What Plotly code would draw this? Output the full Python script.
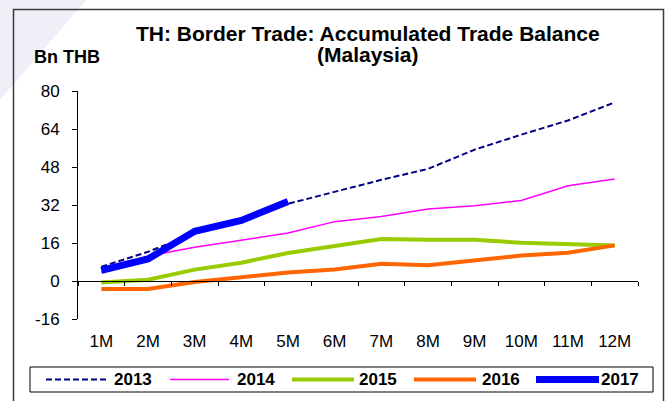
import plotly.graph_objects as go

# Accumulated border trade balance with Malaysia, billion THB
months = ["1M", "2M", "3M", "4M", "5M", "6M", "7M", "8M", "9M", "10M", "11M", "12M"]
bal_2013 = [6.0, 12.3, 20.0, 26.0, 32.5, 37.5, 42.6, 47.2, 55.3, 61.6, 67.6, 75.2]
bal_2014 = [3.7, 10.5, 14.2, 17.1, 20.2, 25.0, 27.2, 30.3, 31.7, 33.9, 40.1, 42.9]
bal_2015 = [-0.6, 0.5, 4.8, 7.7, 11.8, 14.7, 17.7, 17.4, 17.4, 16.1, 15.4, 15.0]
bal_2016 = [-3.4, -3.4, -0.4, 1.7, 3.6, 4.8, 7.3, 6.6, 8.7, 10.7, 11.9, 15.0]
bal_2017 = [4.5, 9.3, 20.9, 25.5, 33.5]
y_ticks = [-16, 0, 16, 32, 48, 64, 80]
y_tick_text = ["-16", "0", "16", "32", "48", "64", "80"]

FONT = "Arial, 'Liberation Sans', sans-serif"
W, H = 668, 401
PL, PR, PT, PB = 78, 638, 91, 319   # plot area edges in pixels


def fx(px):
    return (px - PL) / (PR - PL)


def fy(py):
    return (PB - py) / (PB - PT)


series = [
    ("2013", bal_2013, dict(color="#000080", width=2, dash="6px,3px")),
    ("2014", bal_2014, dict(color="#ff00ff", width=1.5)),
    ("2015", bal_2015, dict(color="#99cc00", width=4)),
    ("2016", bal_2016, dict(color="#ff6600", width=4)),
    ("2017", bal_2017, dict(color="#0000ff", width=7)),
]

fig = go.Figure()
for name, vals, line in series:
    fig.add_trace(go.Scatter(x=months[:len(vals)], y=vals, name=name, mode="lines",
                             line=line, showlegend=False))

# helper trace so the zero-line category axis is drawn
fig.add_trace(go.Scatter(x=months, y=[None] * len(months), xaxis="x2",
                         showlegend=False, hoverinfo="skip"))

y_min, y_max = y_ticks[0], y_ticks[-1]

fig.update_layout(
    width=W, height=H,
    margin=dict(l=PL, r=W - PR, t=PT, b=H - PB),
    paper_bgcolor="white", plot_bgcolor="rgba(0,0,0,0)",
    font=dict(family=FONT, color="black"),
    showlegend=False,
    xaxis=dict(type="category", range=[-0.5, len(months) - 0.5], showline=False,
               ticks="", showgrid=False, zeroline=False,
               tickfont=dict(size=17, family=FONT), ticklabelstandoff=10),
    xaxis2=dict(type="category", overlaying="x", matches="x", anchor="free",
                position=(0 - y_min) / (y_max - y_min), showline=True,
                linecolor="black", linewidth=1, ticks="outside", tickson="boundaries",
                ticklen=4, tickcolor="black", showticklabels=False, showgrid=False,
                zeroline=False),
    yaxis=dict(range=[y_min, y_max], tickvals=y_ticks, ticktext=y_tick_text,
               showline=True, linecolor="black",
               linewidth=1, ticks="outside", ticklen=5, tickcolor="black", showgrid=False,
               zeroline=False, tickfont=dict(size=17, family=FONT), ticklabelstandoff=9),
)

shapes = [
    # faint backdrop band in the corner
    dict(type="path", xref="paper", yref="paper", layer="below",
         path=f"M {fx(0)},{fy(0)} L {fx(86)},{fy(0)} L {fx(0)},{fy(100)} Z",
         fillcolor="#efeff7", line=dict(width=0)),
    # chart frame
    dict(type="rect", xref="paper", yref="paper", layer="below",
         x0=fx(13.5), x1=fx(663.5), y0=fy(9.5), y1=fy(420),
         line=dict(color="#3a3a3a", width=1.5), fillcolor="rgba(0,0,0,0)"),
    # legend box
    dict(type="rect", xref="paper", yref="paper",
         x0=fx(30), x1=fx(653), y0=fy(367), y1=fy(392),
         line=dict(color="black", width=1), fillcolor="white"),
]

annotations = [
    dict(text="<b>TH: Border Trade: Accumulated Trade Balance</b>", xref="paper", yref="paper",
         x=fx(368), y=fy(33), xanchor="center", yanchor="middle", showarrow=False,
         font=dict(size=21, family=FONT)),
    dict(text="<b>(Malaysia)</b>", xref="paper", yref="paper",
         x=fx(368), y=fy(54), xanchor="center", yanchor="middle", showarrow=False,
         font=dict(size=21, family=FONT)),
    dict(text="<b>Bn THB</b>", xref="paper", yref="paper",
         x=fx(32), y=fy(57), xanchor="left", yanchor="middle", showarrow=False,
         font=dict(size=18, family=FONT)),
]

# legend entries: sample line followed by the year
legend_y = fy(379.5)
legend_pos = [(46, 109, 112), (170, 229, 235), (292, 354, 357), (414, 476, 480), (536, 599, 599)]
for (name, vals, line), (lx0, lx1, tx) in zip(series, legend_pos):
    shapes.append(dict(type="line", xref="paper", yref="paper",
                       x0=fx(lx0), x1=fx(lx1), y0=legend_y, y1=legend_y,
                       line=dict(color=line["color"], width=line["width"],
                                 dash=line.get("dash", "solid"))))
    annotations.append(dict(text=f"<b>{name}</b>", xref="paper", yref="paper",
                            x=fx(tx), y=legend_y, xanchor="left", yanchor="middle",
                            showarrow=False, font=dict(size=17, family=FONT)))

fig.update_layout(shapes=shapes, annotations=annotations)

fig.write_html("out.html")
